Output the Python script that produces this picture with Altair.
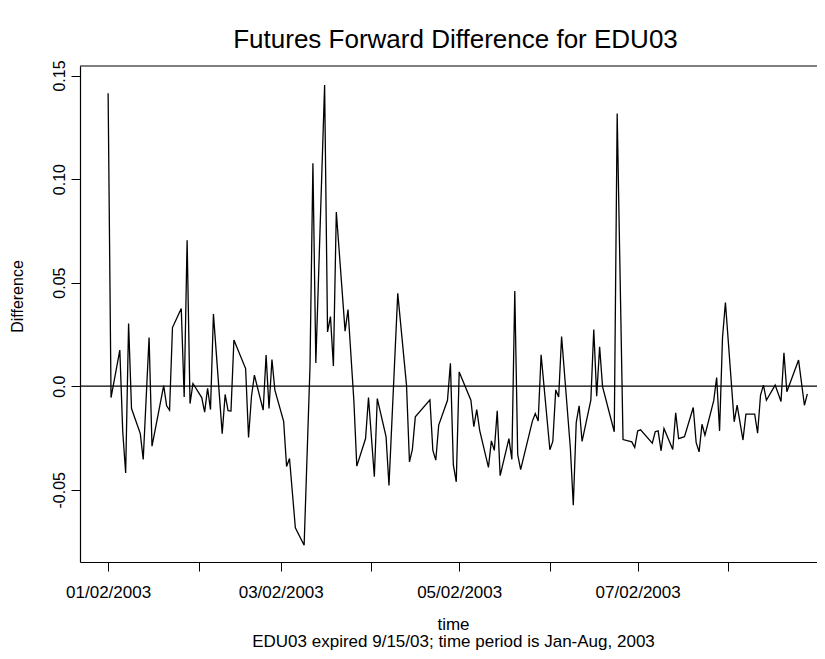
import altair as alt
import pandas as pd

# ---- data (trading dates, 2003) ----
dates = [
    "2003-01-02", "2003-01-03", "2003-01-06", "2003-01-07", "2003-01-08", "2003-01-09", "2003-01-10",
    "2003-01-13", "2003-01-14", "2003-01-16", "2003-01-17", "2003-01-21", "2003-01-22", "2003-01-23",
    "2003-01-24", "2003-01-27", "2003-01-28", "2003-01-29", "2003-01-30", "2003-01-31",
    "2003-02-03", "2003-02-04", "2003-02-05", "2003-02-06", "2003-02-07", "2003-02-10", "2003-02-11",
    "2003-02-12", "2003-02-13", "2003-02-14", "2003-02-18", "2003-02-19", "2003-02-20", "2003-02-21",
    "2003-02-24", "2003-02-25", "2003-02-26", "2003-02-27", "2003-02-28",
    "2003-03-03", "2003-03-04", "2003-03-05", "2003-03-07", "2003-03-10", "2003-03-12", "2003-03-13",
    "2003-03-14", "2003-03-17", "2003-03-18", "2003-03-19", "2003-03-20", "2003-03-21", "2003-03-24",
    "2003-03-25", "2003-03-27", "2003-03-28", "2003-03-31",
    "2003-04-01", "2003-04-03", "2003-04-04", "2003-04-07", "2003-04-08", "2003-04-11", "2003-04-14",
    "2003-04-15", "2003-04-16", "2003-04-17", "2003-04-22", "2003-04-23", "2003-04-24", "2003-04-25",
    "2003-04-28", "2003-04-29", "2003-04-30",
    "2003-05-01", "2003-05-02", "2003-05-06", "2003-05-07", "2003-05-08", "2003-05-09", "2003-05-12",
    "2003-05-13", "2003-05-14", "2003-05-15", "2003-05-16", "2003-05-19", "2003-05-20", "2003-05-21",
    "2003-05-22", "2003-05-23", "2003-05-27", "2003-05-28", "2003-05-29", "2003-05-30",
    "2003-06-02", "2003-06-03", "2003-06-04", "2003-06-05", "2003-06-06", "2003-06-09", "2003-06-10",
    "2003-06-11", "2003-06-12", "2003-06-13", "2003-06-16", "2003-06-17", "2003-06-18", "2003-06-19",
    "2003-06-20", "2003-06-24", "2003-06-25", "2003-06-27", "2003-06-30",
    "2003-07-01", "2003-07-02", "2003-07-03", "2003-07-07", "2003-07-08", "2003-07-09", "2003-07-10",
    "2003-07-11", "2003-07-14", "2003-07-15", "2003-07-16", "2003-07-18", "2003-07-21", "2003-07-22",
    "2003-07-23", "2003-07-24", "2003-07-25", "2003-07-28", "2003-07-29", "2003-07-30", "2003-07-31",
    "2003-08-01", "2003-08-04", "2003-08-05", "2003-08-07", "2003-08-08", "2003-08-11", "2003-08-12",
    "2003-08-13", "2003-08-14", "2003-08-15", "2003-08-18", "2003-08-20", "2003-08-21", "2003-08-22",
    "2003-08-26", "2003-08-28", "2003-08-29",
]

differences = [
    0.1414, -0.0055, 0.0174, -0.0220, -0.0419, 0.0303, -0.0108,
    -0.0229, -0.0354, 0.0235, -0.0290, 0.0003, -0.0095, -0.0116,
    0.0283, 0.0375, -0.0052, 0.0705, -0.0084, 0.0013,
    -0.0055, -0.0125, -0.0010, -0.0113, 0.0348, -0.0229, -0.0040,
    -0.0118, -0.0120, 0.0223, 0.0085, -0.0248, -0.0050, 0.0053,
    -0.0116, 0.0150, -0.0108, 0.0129, -0.0019,
    -0.0170, -0.0388, -0.0349, -0.0684, -0.0768, 0.0093, 0.1076,
    0.0112, 0.1454, 0.0262, 0.0336, 0.0097, 0.0841, 0.0266,
    0.0370, -0.0070, -0.0386, -0.0253,
    -0.0055, -0.0437, -0.0060, -0.0244, -0.0480, 0.0448, 0.0003,
    -0.0366, -0.0305, -0.0148, -0.0066, -0.0310, -0.0357, -0.0188,
    -0.0068, 0.0110, -0.0380,
    -0.0462, 0.0069, -0.0068, -0.0196, -0.0113, -0.0213, -0.0392,
    -0.0264, -0.0310, -0.0119, -0.0432, -0.0253, -0.0354, 0.0460,
    -0.0330, -0.0403, -0.0170, -0.0132, -0.0168, 0.0152,
    -0.0307, -0.0267, -0.0018, -0.0052, 0.0240, -0.0300, -0.0575,
    -0.0176, -0.0095, -0.0267, -0.0068, 0.0274, -0.0048, 0.0190,
    -0.0002, -0.0220, 0.1317, -0.0258, -0.0269,
    -0.0296, -0.0216, -0.0211, -0.0275, -0.0220, -0.0216, -0.0312,
    -0.0204, -0.0306, -0.0129, -0.0253, -0.0244, -0.0103, -0.0273,
    -0.0317, -0.0184, -0.0237, -0.0070, 0.0042, -0.0216, 0.0234,
    0.0404, -0.0172, -0.0092, -0.0260, -0.0135, -0.0135, -0.0227,
    -0.0043, 0.0005, -0.0068, 0.0005, -0.0074, 0.0161, -0.0027,
    0.0126, -0.0092, -0.0037,
]

tick_months = [1, 2, 3, 4, 5, 6, 7, 8]
y_ticks = [-0.05, 0.0, 0.05, 0.10, 0.15]
y_domain = [-0.0849, 0.1546]

title_text = "Futures Forward Difference for EDU03"
x_title = ["time", "EDU03 expired 9/15/03; time period is Jan-Aug, 2003"]
y_title = "Difference"

df = pd.DataFrame({"date": dates, "diff": differences})
zero_df = pd.DataFrame({"zero": [0.0]})

FONT = "Liberation Sans"
W, H = 737, 496

x_scale = alt.Scale(
    type="utc",
    domain=[
        alt.DateTime(year=2002, month=12, date=23, hours=9, minutes=22, utc=True),
        alt.DateTime(year=2003, month=9, date=1, hours=7, minutes=12, utc=True),
    ],
)
y_scale = alt.Scale(domain=y_domain, nice=False, zero=False)

x_axis = alt.Axis(
    values=[alt.DateTime(year=2003, month=m, date=2, utc=True) for m in tick_months],
    labelExpr="utcmonth(datum.value) % 2 == 0 ? utcFormat(datum.value, '%m/%d/%Y') : ''",
    grid=False,
    domainColor="black",
    domainWidth=1.2,
    tickColor="black",
    tickWidth=1,
    tickSize=9,
    labelFont=FONT,
    labelFontSize=17,
    labelColor="black",
    labelPadding=13,
    labelOverlap=False,
    labelFlush=False,
    title=x_title,
    titleFont=FONT,
    titleFontSize=17,
    titleFontWeight="normal",
    titleColor="black",
    titleX=373,
    titleY=54,
    titleAlign="center",
    titleBaseline="top",
    titleLineHeight=17.5,
)

y_axis = alt.Axis(
    values=y_ticks,
    labelExpr="datum.value == 0 ? '0.0' : (datum.value < 0 ? '-' + format(-datum.value, '.2f') : format(datum.value, '.2f'))",
    grid=False,
    domainColor="black",
    domainWidth=1.2,
    tickColor="black",
    tickWidth=1,
    tickSize=9,
    labelFont=FONT,
    labelFontSize=16,
    labelColor="black",
    labelAngle=-90,
    labelAlign="center",
    labelBaseline="alphabetic",
    labelPadding=7,
    labelOverlap=False,
    labelFlush=False,
    title=y_title,
    titleFont=FONT,
    titleFontSize=16,
    titleFontWeight="normal",
    titleColor="black",
    titleAngle=-90,
    titleX=-58,
    titleY=230,
    titleAlign="center",
    titleBaseline="alphabetic",
)

line = alt.Chart(df).mark_line(color="black", strokeWidth=1.3).encode(
    x=alt.X("date:T", scale=x_scale, axis=x_axis),
    y=alt.Y("diff:Q", scale=y_scale, axis=y_axis),
)

zero_rule = alt.Chart(zero_df).mark_rule(color="black", strokeWidth=1.2).encode(
    y=alt.Y("zero:Q", scale=y_scale)
)

top_border = alt.Chart(zero_df).mark_rule(color="black", strokeWidth=1.2).encode(
    y=alt.value(0)
)

chart = (
    alt.layer(line, zero_rule, top_border)
    .properties(
        width=W,
        height=H,
        title=alt.TitleParams(
            text=title_text,
            font=FONT,
            fontSize=26,
            fontWeight="normal",
            color="black",
            anchor="middle",
            baseline="alphabetic",
            offset=19,
            dx=7,
            dy=33,
        ),
        autosize=alt.AutoSizeParams(type="none"),
        padding={"left": 72, "top": 58, "right": 0, "bottom": 92},
        background="white",
    )
    .configure_view(stroke=None)
)

chart.save("out.html", embed_options={"renderer": "svg", "actions": False})
